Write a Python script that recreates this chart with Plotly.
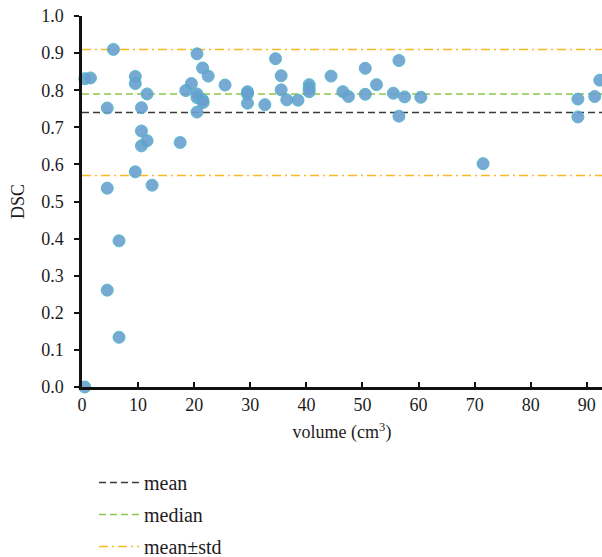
import plotly.graph_objects as go

volume = [0.5, 0.5, 1.5, 5.6, 4.5, 9.5, 9.5, 11.6, 10.6, 10.6, 10.6, 11.6, 9.5, 4.5, 12.5,
          6.6, 4.5, 6.6, 17.5, 18.5, 19.5, 20.5, 21.5, 22.5, 20.5, 20.5, 21.5, 21.6, 20.5,
          25.5, 29.5, 29.5, 29.5, 32.6, 34.5, 35.5, 35.5, 36.5, 38.5, 40.5, 40.5, 40.5,
          44.4, 46.5, 47.5, 50.5, 50.5, 52.5, 55.5, 56.5, 57.5, 56.5, 60.4, 71.5,
          88.4, 88.4, 91.4, 92.3]
dsc = [0.0, 0.831, 0.833, 0.910, 0.752, 0.837, 0.818, 0.790, 0.753, 0.690, 0.650, 0.664, 0.580, 0.536, 0.544,
       0.394, 0.261, 0.134, 0.659, 0.799, 0.818, 0.898, 0.860, 0.838, 0.790, 0.780, 0.774, 0.767, 0.741,
       0.814, 0.796, 0.790, 0.765, 0.761, 0.885, 0.839, 0.801, 0.774, 0.773, 0.815, 0.805, 0.796,
       0.838, 0.796, 0.783, 0.859, 0.789, 0.815, 0.792, 0.880, 0.782, 0.730, 0.781, 0.602,
       0.776, 0.728, 0.783, 0.827]

mean_val = 0.740
median_val = 0.790
std_val = 0.170
x_range = [0, 92.7]
y_ticks = [0.0, 0.1, 0.2, 0.3, 0.4, 0.5, 0.6, 0.7, 0.8, 0.9, 1.0]
x_ticks = [0, 10, 20, 30, 40, 50, 60, 70, 80, 90]

FONT = "Liberation Serif"
TXT = "#1e1b1c"

fig = go.Figure()
fig.add_trace(go.Scatter(x=x_range, y=[mean_val, mean_val], mode="lines", name="mean",
                         legendgroup="a",
                         line=dict(color="#3a3a3a", width=1.5, dash="7px,4px"), hoverinfo="skip"))
fig.add_trace(go.Scatter(x=x_range, y=[median_val, median_val], mode="lines", name="median",
                         legendgroup="b",
                         line=dict(color="#8cc84b", width=1.5, dash="7px,4px"), hoverinfo="skip"))
fig.add_trace(go.Scatter(x=x_range + [None] + x_range,
                         y=[mean_val + std_val] * 2 + [None] + [mean_val - std_val] * 2,
                         mode="lines", name="mean\u00b1std", legendgroup="c",
                         line=dict(color="#f7b924", width=1.5, dash="9px,4px,2px,4px"), hoverinfo="skip"))
fig.add_trace(go.Scatter(x=volume, y=dsc, mode="markers", showlegend=False, cliponaxis=False,
                         marker=dict(size=12, color="#6a9fd0", opacity=0.9,
                                     line=dict(color="#48b3c6", width=1))))

fig.update_layout(
    width=602, height=557,
    margin=dict(l=82, r=0, t=16, b=170, autoexpand=False),
    plot_bgcolor="white", paper_bgcolor="white",
    font=dict(family=FONT, size=18, color=TXT),
    showlegend=True,
    legend=dict(x=0.023, y=-0.205, xanchor="left", yanchor="top", orientation="v",
                traceorder="grouped", tracegroupgap=3, itemwidth=40,
                font=dict(family=FONT, size=20, color=TXT), bgcolor="rgba(0,0,0,0)"),
    xaxis=dict(range=x_range, tickvals=x_ticks, showgrid=False, zeroline=False,
               showline=True, linecolor="#111", linewidth=2.5,
               ticks="inside", ticklen=5, tickwidth=2, tickcolor="#111",
               tickfont=dict(family=FONT, size=18, color=TXT),
               title=dict(text="volume (cm<sup>3</sup>)", standoff=12,
                          font=dict(family=FONT, size=18, color=TXT))),
    yaxis=dict(range=[0, 1.0], tickvals=y_ticks, tickformat=".1f", showgrid=False, zeroline=False,
               showline=True, linecolor="#111", linewidth=2.5,
               ticks="outside", ticklen=5, tickwidth=2, tickcolor="#111",
               ticklabelstandoff=7,
               tickfont=dict(family=FONT, size=18, color=TXT),
               title=dict(text="DSC", standoff=12, font=dict(family=FONT, size=18, color=TXT))),
)

fig.write_html("out.html", config={"displayModeBar": False},
               post_script="document.body.style.margin='0';document.body.style.overflow='hidden';")
